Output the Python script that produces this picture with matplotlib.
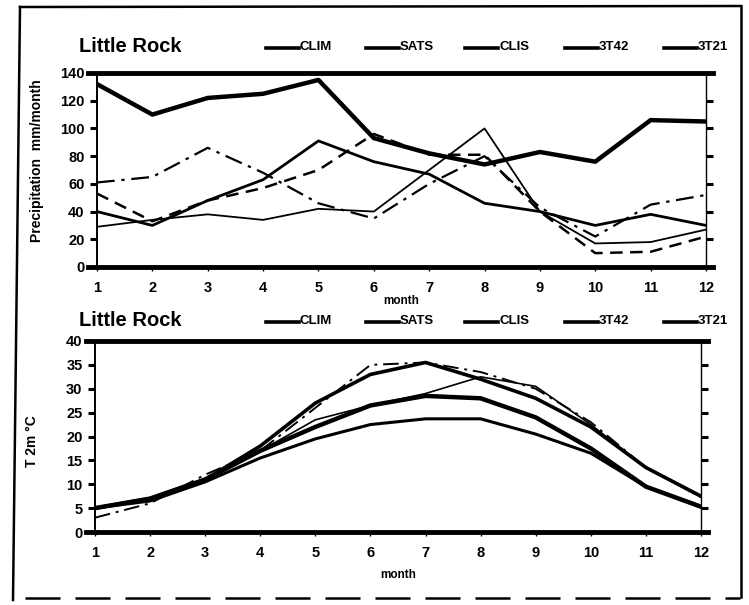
import matplotlib
matplotlib.use('Agg')
import matplotlib.pyplot as plt
from matplotlib.lines import Line2D

plt.rcParams['font.family'] = ['Liberation Sans', 'DejaVu Sans']
plt.rcParams['font.weight'] = 'bold'

months = list(range(1, 13))
names = ['CLIM', 'SATS', 'CLIS', '3T42', '3T21']

# precipitation mm/month
prec_clim = [132, 110, 122, 125, 135, 93, 82, 74, 83, 76, 106, 105]
prec_sats = [29, 34, 38, 34, 42, 40, 70, 100, 40, 17, 18, 27]
prec_clis = [53, 33, 48, 57, 70, 96, 81, 81, 40, 10, 11, 22]
prec_3t42 = [40, 30, 48, 63, 91, 76, 67, 46, 40, 30, 38, 30]
prec_3t21 = [61, 65, 86, 68, 46, 35, 60, 80, 43, 22, 45, 52]
prec_ticks = [0, 20, 40, 60, 80, 100, 120, 140]

# T 2m deg C
temp_clim = [5, 7, 11, 17, 22, 26.5, 28.5, 28, 24, 17.5, 9.5, 5.3]
temp_sats = [5, 6.5, 10.5, 15.5, 19.5, 22.5, 23.7, 23.7, 20.5, 16.5, 9.5, 5.2]
temp_clis = [3, 6, 12, 17, 26, 35, 35.5, 33.5, 30, 23, 13.5, 7.3]
temp_3t42 = [5, 7, 11, 17, 23.5, 26.5, 29, 32.5, 30.5, 22.5, 13.5, 7.3]
temp_3t21 = [5, 7, 11, 18, 27, 33, 35.5, 32, 28, 22, 13.5, 7.5]
temp_ticks = [0, 5, 10, 15, 20, 25, 30, 35, 40]

prec_styles = [dict(lw=3.2, ls='-'), dict(lw=1.3, ls='-'), dict(lw=1.8, ls=(0, (5, 3))),
               dict(lw=2.0, ls='-'), dict(lw=1.6, ls=(0, (8, 3, 1.5, 3)))]
temp_styles = [dict(lw=3.2, ls='-'), dict(lw=2.2, ls='-'), dict(lw=1.4, ls=(0, (8, 3, 1.5, 3))),
               dict(lw=1.2, ls='-'), dict(lw=2.6, ls='-')]

W, H = 749, 605


def fx(px):
    return px / W


def fy(py):
    return 1 - py / H


def panel(ax, series, styles, ticks, ylabel, ylab_x, ylab_y):
    for vals, st in zip(series, styles):
        ax.plot(months, vals, color='black', solid_capstyle='round', **st)
    ax.set_xlim(1, 12)
    ax.set_ylim(ticks[0], ticks[-1])
    ax.set_xticks(months)
    ax.set_yticks(ticks)
    ax.spines['top'].set_visible(False)
    ax.spines['bottom'].set_visible(False)
    ax.spines['left'].set_linewidth(1.4)
    ax.spines['right'].set_linewidth(1.0)
    # heavy top and zero lines, a bit longer than the axes
    ax.plot([-0.015, 1.012], [1, 1], transform=ax.transAxes, clip_on=False, color='black', lw=3.5)
    ax.plot([-0.015, 1.012], [0, 0], transform=ax.transAxes, clip_on=False, color='black', lw=3.5)
    ax.tick_params(axis='y', direction='out', length=5, width=2.2, labelsize=10.5, pad=4, right=True)
    ax.tick_params(axis='x', direction='out', length=3, width=1, labelsize=10.5, pad=7)
    for lab in ax.get_xticklabels() + ax.get_yticklabels():
        lab.set_fontweight('bold')
    fig.text(fx(ylab_x), fy(ylab_y), ylabel, rotation=90, ha='center', va='center',
             fontsize=10, fontweight='bold')


fig = plt.figure(figsize=(W / 100, H / 100), dpi=100)
ax1 = fig.add_axes([fx(97), fy(267), fx(706) - fx(97), fy(73) - fy(267)])
ax2 = fig.add_axes([fx(95), fy(532), fx(701) - fx(95), fy(341) - fy(532)])

panel(ax1, [prec_clim, prec_sats, prec_clis, prec_3t42, prec_3t21], prec_styles,
      prec_ticks, 'Precipitation  mm/month', 37, 161)
panel(ax2, [temp_clim, temp_sats, temp_clis, temp_3t42, temp_3t21], temp_styles,
      temp_ticks, 'T 2m °C', 32, 441)

fig.text(fx(401), fy(301), 'month', ha='center', va='center', fontsize=8.5, fontweight='bold')
fig.text(fx(398), fy(575), 'month', ha='center', va='center', fontsize=8.5, fontweight='bold')

# titles and legends
for ty, styles in [(47, prec_styles), (321, temp_styles)]:
    fig.text(fx(79), fy(ty), 'Little Rock', ha='left', va='center', fontsize=14.5, fontweight='bold')
    for i, name in enumerate(names):
        x0 = 266 + 99.5 * i
        fig.add_artist(Line2D([fx(x0), fx(x0 + 33)], [fy(ty + 1), fy(ty + 1)],
                              transform=fig.transFigure, color='black', lw=2.6))
        fig.text(fx(x0 + 34), fy(ty), name, ha='left', va='center', fontsize=9.5, fontweight='bold')

# scanned page frame
frame = dict(transform=fig.transFigure, color='black', lw=1.8)
fig.add_artist(Line2D([fx(20), fx(13)], [fy(7), fy(600)], **frame))
fig.add_artist(Line2D([fx(20), fx(741)], [fy(7), fy(6)], **frame))
fig.add_artist(Line2D([fx(741), fx(741)], [fy(6), fy(597)], **frame))
fig.add_artist(Line2D([fx(25), fx(740)], [fy(598), fy(598)], ls=(0, (14, 6)), **frame))

fig.savefig('out.png', dpi=100)
